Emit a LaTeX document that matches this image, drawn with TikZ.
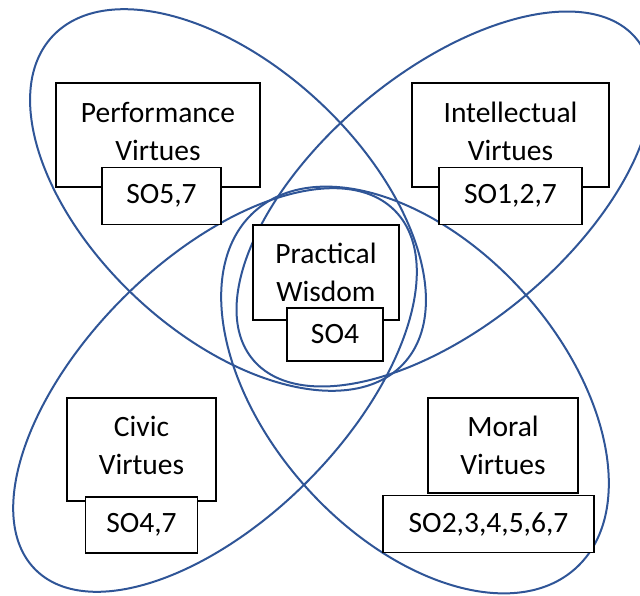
\documentclass[tikz,border=0pt]{standalone}
\usepackage{fontspec}
\setmainfont{Carlito}
\usetikzlibrary{positioning}
\definecolor{petalblue}{RGB}{47,85,151}

\begin{document}
\begin{tikzpicture}[x=1pt,y=1pt,
    node distance=60pt,on grid,
    petal/.style={draw=petalblue,line width=2pt},
    virtue/.style={rectangle,draw,fill=white,line width=1.8pt,outer sep=0pt,
        inner sep=0pt,align=center,font=\fontsize{29.5pt}{38pt}\selectfont},
    upper/.style={execute at end node={\rule[-8pt]{0pt}{8pt}}},
    outcome/.style={virtue,minimum height=57pt}]
   \useasboundingbox (0,0) rectangle (640,-596);
   \clip (0,0) rectangle (640,-596);

   % petals
   \draw[petal,shift={(228,-200)},rotate=-43] (0,0) ellipse [x radius=240,y radius=134];
   \draw[petal,shift={(444.5,-199)},rotate=40] (0,0) ellipse [x radius=250,y radius=126];
   \draw[petal,shift={(215,-390)},rotate=45] (0,0) ellipse [x radius=254,y radius=130];
   \draw[petal,shift={(415,-390)},rotate=-48] (0,0) ellipse [x radius=240,y radius=146];

   % virtues
   \node [virtue,upper,minimum width=204pt,minimum height=104pt] (perf)  at (158,-135)   {Performance\\Virtues};
   \node [virtue,upper,minimum width=197pt,minimum height=104pt] (intel) at (510.5,-135) {Intellectual\\Virtues};
   \node [virtue,minimum width=146pt,minimum height=95pt]  (pract) at (326,-272.5) {Practical\\Wisdom};
   \node [virtue,upper,minimum width=149pt,minimum height=103pt] (civic) at (141.5,-449.5) {Civic\\Virtues};
   \node [virtue,minimum width=150pt,minimum height=95pt]  (moral) at (503,-445.5) {Moral\\Virtues};

   % student outcomes
   \node [outcome,minimum width=119pt] (perfso)  [below=61pt of perf,xshift=3.5pt]    {SO5,7};
   \node [outcome,minimum width=143pt] (intelso) [below=61pt of intel]                {SO1,2,7};
   \node [outcome,minimum width=96pt,minimum height=53pt] (practso) [below=62pt of pract,xshift=9pt] {SO4};
   \node [outcome,minimum width=112pt,minimum height=56pt] (civicso) [below=75.5pt of civic] {SO4,7};
   \node [outcome,minimum width=211pt] (moralso) [below=78.5pt of moral,xshift=-14.5pt] {SO2,3,4,5,6,7};
\end{tikzpicture}
\end{document}
